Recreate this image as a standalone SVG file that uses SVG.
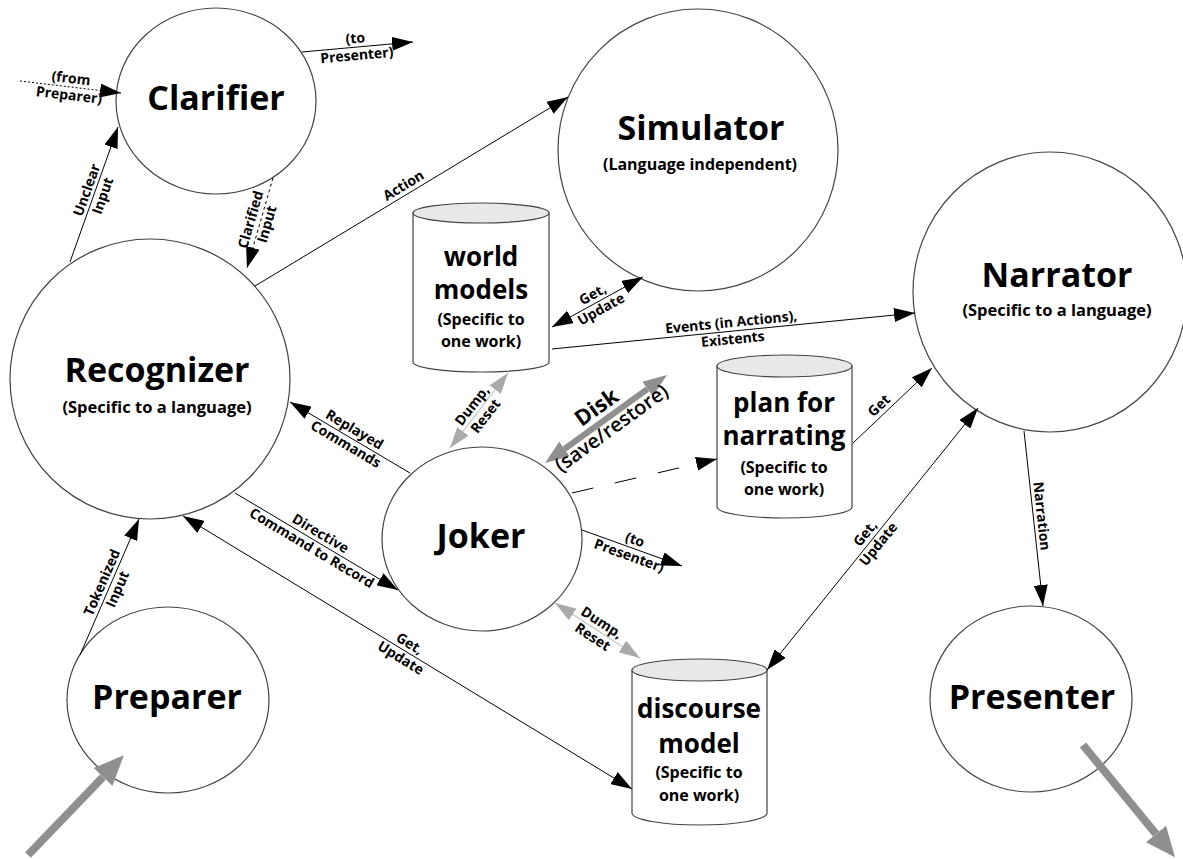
<svg xmlns="http://www.w3.org/2000/svg" width="1183" height="859" viewBox="0 0 1183 859">
<defs>
<style>
.node{fill:#fff;stroke:#444;stroke-width:1.2}
.cyl{fill:#fff;stroke:#444;stroke-width:1.2}
.cyltop{fill:#e8e8e8;stroke:#444;stroke-width:1.2}
.title{font-family:"Open Sans","Noto Sans",sans-serif;font-weight:700;font-size:34px;text-anchor:middle;fill:#000}
.sub{font-family:"Open Sans","Noto Sans",sans-serif;font-weight:700;font-size:16px;text-anchor:middle;fill:#000}
.ctitle{font-family:"Open Sans","Noto Sans",sans-serif;font-weight:700;font-size:26px;text-anchor:middle;fill:#000}
.lbl{font-family:"Open Sans","Noto Sans",sans-serif;font-weight:700;font-size:14px;text-anchor:middle;fill:#000}
.disk1{font-family:"Open Sans","Noto Sans",sans-serif;font-weight:700;font-size:22px;text-anchor:middle;fill:#000}
.disk2{font-family:"Open Sans","Noto Sans",sans-serif;font-weight:600;font-size:20px;text-anchor:middle;fill:#000}
.ln{fill:none;stroke:#000;stroke-width:1}
.gl{fill:none;stroke:#b0b0b0;stroke-width:1}
</style>
<marker id="arr" markerUnits="userSpaceOnUse" markerWidth="21" markerHeight="14" refX="21" refY="7" orient="auto-start-reverse"><path d="M0,0 L21,7 L0,14 z" fill="#000"/></marker>
<marker id="garr" markerUnits="userSpaceOnUse" markerWidth="21" markerHeight="14" refX="21" refY="7" orient="auto-start-reverse"><path d="M0,0 L21,7 L0,14 z" fill="#aaaaaa"/></marker>
<marker id="darr" markerUnits="userSpaceOnUse" markerWidth="24" markerHeight="18" refX="0" refY="9" orient="auto-start-reverse"><path d="M0,0 L24,9 L0,18 z" fill="#8f8f8f"/></marker>
<marker id="barr" markerUnits="userSpaceOnUse" markerWidth="30" markerHeight="26" refX="0" refY="13" orient="auto"><path d="M0,0 L30,13 L0,26 z" fill="#8f8f8f"/></marker>
</defs>
<rect width="1183" height="859" fill="#fff"/>

<g id="nodes">
<g id="clarifier"><ellipse class="node" cx="216" cy="101" rx="100" ry="93"/><text class="title" x="216" y="110">Clarifier</text></g>
<g id="simulator"><ellipse class="node" cx="698" cy="150" rx="140" ry="141"/><text class="title" x="701" y="140">Simulator</text><text class="sub" x="700" y="170">(Language independent)</text></g>
<g id="narrator"><ellipse class="node" cx="1050" cy="292" rx="137" ry="140"/><text class="title" x="1057" y="287">Narrator</text><text class="sub" x="1057" y="316" style="font-size:16.5px">(Specific to a language)</text></g>
<g id="recognizer"><ellipse class="node" cx="150" cy="379" rx="140" ry="140"/><text class="title" x="157" y="382">Recognizer</text><text class="sub" x="157" y="413" style="font-size:16.5px">(Specific to a language)</text></g>
<g id="joker"><ellipse class="node" cx="482" cy="539" rx="100" ry="92"/><text class="title" x="481" y="548">Joker</text></g>
<g id="preparer"><ellipse class="node" cx="168" cy="700" rx="101" ry="93"/><text class="title" x="167" y="709">Preparer</text></g>
<g id="presenter"><ellipse class="node" cx="1031" cy="699" rx="101" ry="93"/><text class="title" x="1032" y="709">Presenter</text></g>
<g id="world-models">
<path class="cyl" d="M413,213 L413,362 A68,10 0 0 0 549,362 L549,213 z"/>
<ellipse class="cyltop" cx="481" cy="213" rx="68" ry="10"/>
<text class="ctitle" x="481" y="266">world</text><text class="ctitle" x="481" y="299">models</text>
<text class="sub" x="481" y="325">(Specific to</text><text class="sub" x="481" y="347">one work)</text>
</g>
<g id="plan-for-narrating">
<path class="cyl" d="M717,366 L717,507 A67.5,11 0 0 0 852,507 L852,366 z"/>
<ellipse class="cyltop" cx="784.5" cy="366" rx="67.5" ry="11"/>
<text class="ctitle" x="784" y="412">plan for</text><text class="ctitle" x="784" y="445">narrating</text>
<text class="sub" x="784" y="473">(Specific to</text><text class="sub" x="784" y="495">one work)</text>
</g>
<g id="discourse-model">
<path class="cyl" d="M632,670 L632,813 A67.5,12 0 0 0 767,813 L767,670 z"/>
<ellipse class="cyltop" cx="699.5" cy="670" rx="67.5" ry="11"/>
<text class="ctitle" x="699" y="718">discourse</text><text class="ctitle" x="699" y="753">model</text>
<text class="sub" x="699" y="778">(Specific to</text><text class="sub" x="699" y="801">one work)</text>
</g>
</g>

<g id="connectors">
<line class="ln" x1="20" y1="81" x2="121" y2="93" stroke-dasharray="2 2" stroke="#444" marker-end="url(#arr)"/>
<g transform="translate(70,87) rotate(6.8)"><text class="lbl" y="-4">(from</text><text class="lbl" y="13">Preparer)</text></g>

<line class="ln" x1="302" y1="52" x2="413" y2="42" marker-end="url(#arr)"/>
<g transform="translate(356,47) rotate(-5.1)"><text class="lbl" y="-4">(to</text><text class="lbl" y="13">Presenter)</text></g>

<line class="ln" x1="70" y1="262" x2="118" y2="127" marker-end="url(#arr)"/>
<g transform="translate(95,193) rotate(-70.4)"><text class="lbl" y="-4">Unclear</text><text class="lbl" y="13">Input</text></g>

<line class="ln" x1="273" y1="178" x2="247" y2="268" stroke-dasharray="3 3" marker-end="url(#arr)"/>
<g transform="translate(259,222) rotate(-73.9)"><text class="lbl" y="-4">Clarified</text><text class="lbl" y="13">Input</text></g>

<line class="ln" x1="255" y1="286" x2="568" y2="97" marker-end="url(#arr)"/>
<g transform="translate(408,193) rotate(-31.1)"><text class="lbl" y="-4">Action</text></g>

<line class="ln" x1="552" y1="327" x2="643" y2="277" marker-start="url(#arr)" marker-end="url(#arr)"/>
<g transform="translate(597,302) rotate(-29)"><text class="lbl" y="-4">Get,</text><text class="lbl" y="13">Update</text></g>

<line class="ln" x1="552" y1="349" x2="915" y2="313" marker-end="url(#arr)"/>
<g transform="translate(732,331) rotate(-5.7)"><text class="lbl" y="-4">Events (in Actions),</text><text class="lbl" y="13">Existents</text></g>

<line class="ln" x1="410" y1="473" x2="290" y2="402" marker-end="url(#arr)"/>
<g transform="translate(350,437) rotate(30.6)"><text class="lbl" y="-4">Replayed</text><text class="lbl" y="13">Commands</text></g>

<line class="ln" x1="235" y1="493" x2="398" y2="590" marker-end="url(#arr)"/>
<g transform="translate(316,541) rotate(30.8)"><text class="lbl" y="-4">Directive</text><text class="lbl" y="13">Command to Record</text></g>

<line class="ln" x1="183" y1="516" x2="632" y2="789" marker-start="url(#arr)" marker-end="url(#arr)"/>
<g transform="translate(405,651) rotate(31.3)"><text class="lbl" y="-4">Get,</text><text class="lbl" y="13">Update</text></g>

<line class="ln" x1="80" y1="655" x2="139" y2="519" marker-end="url(#arr)"/>
<g transform="translate(110,586) rotate(-66.5)"><text class="lbl" y="-4">Tokenized</text><text class="lbl" y="13">Input</text></g>

<line class="gl" x1="450" y1="448" x2="508" y2="373" marker-start="url(#garr)" marker-end="url(#garr)"/>
<g transform="translate(479,411) rotate(-52.3)"><text class="lbl" y="-4">Dump,</text><text class="lbl" y="13">Reset</text></g>

<line x1="564.5" y1="449" x2="647.5" y2="389" stroke="#8f8f8f" stroke-width="6" marker-start="url(#darr)" marker-end="url(#darr)"/>
<g transform="translate(605,419) rotate(-35.8)"><text class="disk1" y="-7">Disk</text><text class="disk2" y="18">(save/restore)</text></g>

<line class="ln" x1="572" y1="493" x2="717" y2="459" stroke-dasharray="22 22" marker-end="url(#arr)"/>

<line class="ln" x1="582" y1="530" x2="682" y2="566" marker-end="url(#arr)"/>
<g transform="translate(632,548) rotate(19.8)"><text class="lbl" y="-4">(to</text><text class="lbl" y="13">Presenter)</text></g>

<line class="ln" x1="853" y1="443" x2="932" y2="368" marker-end="url(#arr)"/>
<g transform="translate(885,412) rotate(-43.5)"><text class="lbl" y="-4">Get</text></g>

<line class="ln" x1="767" y1="670" x2="978" y2="408" marker-start="url(#arr)" marker-end="url(#arr)"/>
<g transform="translate(872,539) rotate(-51.2)"><text class="lbl" y="-4">Get,</text><text class="lbl" y="13">Update</text></g>

<line class="gl" x1="555" y1="603" x2="640" y2="658" marker-start="url(#garr)" marker-end="url(#garr)"/>
<g transform="translate(597,630) rotate(32.9)"><text class="lbl" y="-4">Dump,</text><text class="lbl" y="13">Reset</text></g>

<line class="ln" x1="1024" y1="431" x2="1043" y2="606" marker-end="url(#arr)"/>
<g transform="translate(1033,517) rotate(83.8)"><text class="lbl" y="-4">Narration</text></g>

<line x1="28" y1="855" x2="103" y2="777" stroke="#8f8f8f" stroke-width="8" marker-end="url(#barr)"/>
<line x1="1083" y1="745" x2="1156" y2="834" stroke="#8f8f8f" stroke-width="8" marker-end="url(#barr)"/>
</g>
</svg>
